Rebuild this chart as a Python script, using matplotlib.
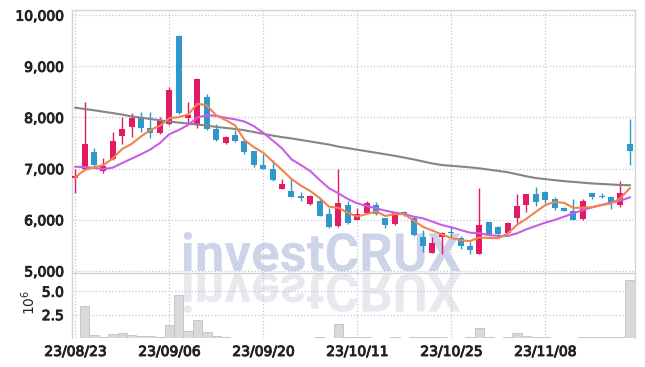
import numpy as np
import matplotlib
matplotlib.use("Agg")
import matplotlib.pyplot as plt
from matplotlib import patheffects
from matplotlib.transforms import Affine2D
from matplotlib.colors import to_rgba
from matplotlib.ticker import FuncFormatter

# daily candles, 23/08/23 .. (60 trading days)
opens = [6810, 6990, 7320, 6960, 7190, 7640, 7820, 7990, 7800, 7690,
         7870, 9600, 7990, 7870, 8390, 7770, 7510, 7650, 7540, 7340,
         7070, 7000, 6610, 6560, 6460, 6300, 6370, 6110, 5870, 6290,
         6000, 6130, 6280, 6030, 5910, 6160, 6040, 5670, 5360, 5670,
         5770, 5640, 5490, 5340, 5950, 5850, 5750, 6030, 6280, 6500,
         6550, 6400, 6240, 6180, 6010, 6520, 6470, 6440, 6290, 7490]
closes = [6850, 7490, 7070, 7050, 7540, 7780, 7980, 7800, 7690, 7930,
          8530, 8080, 8050, 8750, 7770, 7550, 7620, 7530, 7330, 7070,
          7000, 6770, 6700, 6450, 6420, 6470, 6080, 5860, 6330, 5940,
          6110, 6320, 6110, 5890, 6130, 6090, 5700, 5490, 5540, 5750,
          5740, 5480, 5410, 5900, 5690, 5720, 5930, 6270, 6500, 6350,
          6390, 6240, 6180, 6000, 6370, 6450, 6450, 6320, 6520, 7350]
highs = [7000, 8300, 7400, 7200, 7710, 8000, 8080, 8110, 8110, 8000,
         8590, 9610, 8300, 8780, 8450, 7870, 7640, 7750, 7560, 7350,
         7280, 7170, 6790, 6810, 6550, 6480, 6440, 6240, 7000, 6370,
         6230, 6360, 6350, 6040, 6150, 6180, 6080, 5800, 5660, 5760,
         5850, 5680, 5570, 6620, 5960, 5870, 5950, 6500, 6510, 6650,
         6560, 6440, 6250, 6400, 6400, 6530, 6520, 6470, 6760, 7960]
lows = [6520, 6980, 7010, 6910, 7170, 7480, 7620, 7720, 7590, 7680,
        7860, 8070, 7870, 7790, 7760, 7540, 7480, 7520, 7280, 7030,
        6990, 6760, 6600, 6440, 6360, 6290, 6070, 5830, 5860, 5910,
        5990, 6120, 6100, 5830, 5900, 6070, 5680, 5380, 5350, 5340,
        5670, 5420, 5330, 5330, 5680, 5710, 5740, 5930, 6160, 6260,
        6320, 6200, 6170, 5990, 6000, 6400, 6420, 6210, 6250, 7070]
# volume in millions
volume_m = [0.05, 3.40, 0.28, 0.07, 0.42, 0.53, 0.28, 0.18, 0.18, 0.07,
            1.38, 4.57, 0.74, 1.88, 0.66, 0.20, 0.08, 0.05, 0.04, 0.04,
            0.03, 0.04, 0.02, 0.03, 0.02, 0.03, 0.15, 0.05, 1.49, 0.10,
            0.06, 0.08, 0.05, 0.03, 0.06, 0.03, 0.07, 0.08, 0.06, 0.08,
            0.05, 0.04, 0.06, 1.03, 0.10, 0.04, 0.10, 0.50, 0.20, 0.14,
            0.08, 0.04, 0.03, 0.04, 0.10, 0.08, 0.06, 0.08, 0.12, 6.24]
# closes before the first shown day (for the 5-day average)
prev_closes = [6775, 6810, 6825, 6890]
# 10-day and long moving averages
ma10 = [7037, 7030, 7015, 6990, 7020, 7110, 7195, 7282, 7375, 7500,
        7672, 7754, 7852, 8000, 8045, 8030, 7994, 7963, 7920, 7830,
        7700, 7550, 7396, 7182, 7070, 6953, 6777, 6615, 6517, 6406,
        6322, 6270, 6225, 6178, 6139, 6113, 6061, 6029, 5963, 5898,
        5853, 5800, 5748, 5736, 5703, 5684, 5684, 5736, 5814, 5879,
        5944, 5996, 6061, 6127, 6191, 6244, 6289, 6334, 6373, 6439]
ma_long = [8190, 8165, 8140, 8112, 8085, 8055, 8020, 7995, 7970, 7945,
           7920, 7900, 7880, 7862, 7840, 7815, 7795, 7775, 7750, 7715,
           7680, 7645, 7615, 7590, 7560, 7530, 7500, 7470, 7430, 7400,
           7370, 7340, 7310, 7280, 7250, 7215, 7180, 7140, 7100, 7070,
           7055, 7040, 7025, 7005, 6980, 6955, 6930, 6890, 6850, 6815,
           6795, 6775, 6755, 6740, 6725, 6710, 6700, 6690, 6680, 6675]
tick_labels = ["23/08/23", "23/09/06", "23/09/20", "23/10/11", "23/10/25", "23/11/08"]

UP = "#e31a66"
DOWN = "#2f97c9"
GRID = "#c4c6d6"
SPINE = "#d4d4d4"
TXT = "#222222"

plt.rcParams["font.family"] = ["Liberation Sans Narrow", "DejaVu Sans"]
plt.rcParams["font.size"] = 10


class Mirror(patheffects.AbstractPathEffect):
    # draws the glyphs flipped under the baseline, like a reflection
    def __init__(self, color, gap=3):
        super().__init__()
        self.color = to_rgba(color)
        self.gap = gap

    def draw_path(self, renderer, gc, tpath, affine, rgbFace=None):
        y0 = affine.get_matrix()[1, 2]
        flip = Affine2D().translate(0, -y0).scale(1, -1).translate(0, y0 - self.gap)
        gc0 = renderer.new_gc()
        gc0.copy_properties(gc)
        gc0.set_foreground(self.color)
        renderer.draw_path(gc0, tpath, affine + flip, self.color)
        gc0.restore()


W, H = 645, 367
fig = plt.figure(figsize=(W / 100, H / 100), dpi=100)
ax = fig.add_axes([72 / W, (H - 273) / H, (635 - 72) / W, (273 - 10) / H])
axv = fig.add_axes([72 / W, (H - 338) / H, (635 - 72) / W, (338 - 273) / H], sharex=ax)
for a in (ax, axv):
    a.set_facecolor("none")

# watermark
fig.text(321 / W, 1 - 271 / H, "investCRUX", ha="center", va="baseline",
         fontsize=38, fontweight="bold", family="Roboto", color="#cdd3e8",
         zorder=-1, path_effects=[patheffects.Normal(), Mirror("#e8e8ef")])

x = np.arange(len(closes))
o = np.array(opens)
c = np.array(closes)
cols = [UP if cc >= oo else DOWN for oo, cc in zip(o, c)]

ax.vlines(x, lows, highs, colors=cols, lw=1.0, zorder=3)
ax.bar(x, np.maximum(np.abs(c - o), 18), bottom=np.minimum(o, c), width=0.64,
       color=cols, zorder=4)

allc = np.concatenate([prev_closes, c])
ma5 = np.convolve(allc, np.ones(5) / 5, mode="valid")
ax.plot(x, ma_long, color="#858585", lw=1.5, zorder=5)
ax.plot(x, ma10, color="#cc5ce8", lw=1.5, zorder=5)
ax.plot(x, ma5, color="#f0844a", lw=1.5, zorder=6)

ax.set_xlim(-0.35, 59.55)
ax.set_ylim(4960, 10100)
ax.set_yticks(range(5000, 10001, 1000))
ax.yaxis.set_major_formatter(FuncFormatter(lambda v, p: f"{v:,.0f}"))

axv.bar(x, volume_m, width=1.0, color="#d9d9d9", edgecolor="#c2c2c2", lw=0.6, zorder=2)
axv.set_ylim(0, 6.95)
axv.set_yticks([2.5, 5.0])
axv.set_yticklabels(["2.5", "5.0"])
axv.set_ylabel("10$^6$", color=TXT)
axv.yaxis.set_label_coords(-0.06, 0.55)
axv.set_xticks(range(0, 60, 10))
axv.set_xticklabels(tick_labels)

# slightly heavier tick text without making it wider
heavy = [patheffects.withStroke(linewidth=0.7, foreground=TXT)]
for a in (ax, axv):
    a.grid(True, color=GRID, ls=":", lw=0.9)
    a.set_axisbelow(True)
    a.tick_params(length=0, colors=TXT, labelsize=10)
    for s in a.spines.values():
        s.set_color(SPINE)
        s.set_linewidth(1.0)
    for lab in a.get_xticklabels() + a.get_yticklabels():
        lab.set_path_effects(heavy)
ax.tick_params(axis="y", pad=6)
axv.tick_params(axis="y", pad=6)
axv.tick_params(axis="x", pad=5)
ax.tick_params(axis="x", labelbottom=False)
axv.spines["bottom"].set_visible(False)
axv.spines["top"].set_visible(False)

fig.savefig("out.png", dpi=100)
